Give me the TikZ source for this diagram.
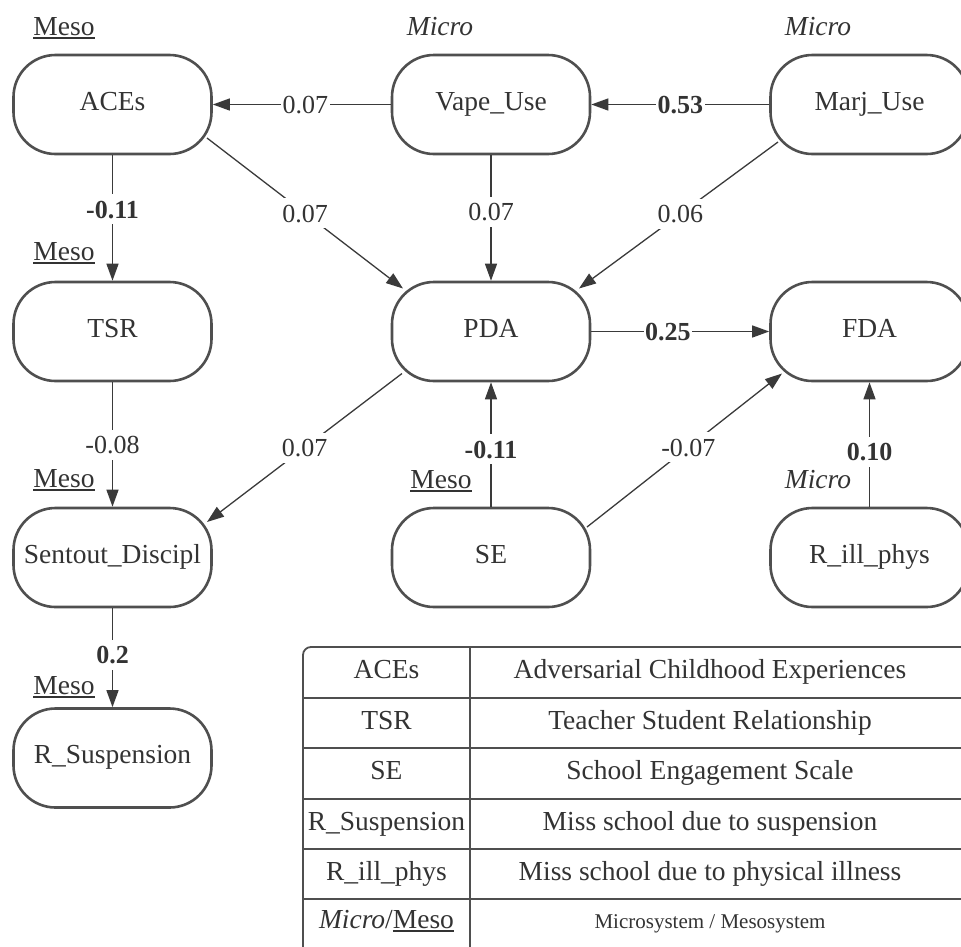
\documentclass[tikz,border=0pt]{standalone}
\usepackage{fontspec}
\setmainfont{Liberation Serif}
\usetikzlibrary{arrows.meta,calc}
\definecolor{ink}{HTML}{333333}
\definecolor{edgecol}{HTML}{3a3a3a}
\definecolor{framecol}{HTML}{4f4f4f}
% underlined word with a rule of our own thickness
\newcommand{\undl}[1]{\setbox0=\hbox{#1}\rlap{\rule[-3.6pt]{\wd0}{1.3pt}}\box0}
\begin{document}
\begin{tikzpicture}[x=1pt,y=-1pt,
  var/.style={draw=framecol, line width=2.6pt, rounded corners=42pt,
    minimum width=198pt, minimum height=99pt, inner sep=0pt,
    text height=18pt, text depth=7pt,
    text=ink, font=\fontsize{27.5}{32}\selectfont},
  lvl/.style={text=ink, inner sep=0pt, font=\fontsize{27.5}{32}\selectfont},
  link/.style={draw=edgecol, line width=1.3pt,
    -{Triangle[length=17pt,width=12pt]}},
  elab/.style={fill=white, text=ink, inner xsep=1.5pt, inner ysep=6pt,
    text height=18pt, text depth=0pt,
    font=\fontsize{26}{30}\selectfont},
  elabb/.style={elab, font=\fontsize{26}{30}\selectfont\bfseries},
  tabline/.style={draw=framecol, line width=1.8pt},
  tabtxt/.style={text=ink, inner sep=0pt, text height=18pt, text depth=6pt,
    font=\fontsize{27.5}{32}\selectfont},
]
\useasboundingbox (0,0) rectangle (961,946);
\clip (0,0) rectangle (961,946);

% variables
\node[var] (ACEs) at (112.5,104.5) {ACEs};
\node[var] (Vape) at (491,104.5) {Vape\_Use};
\node[var] (Marj) at (869.5,104.5) {Marj\_Use};
\node[var] (TSR)  at (112.5,331.5) {TSR};
\node[var] (PDA)  at (491,331.5) {PDA};
\node[var] (FDA)  at (869.5,331.5) {FDA};
\node[var] (Sent) at (112.5,557.5) {Sentout\_Discipl};
\node[var] (SE)   at (491,557.5) {SE};
\node[var] (Rill) at (869.5,557.5) {R\_ill\_phys};
\node[var] (Rsus) at (112.5,758) {R\_Suspension};

% system level tags
\node[lvl,anchor=base] (lvA) at (64,35)  {\undl{Meso}};
\node[lvl,anchor=base] (lvV) at (440,35) {\textit{Micro}};
\node[lvl,anchor=base] (lvM) at (818,35) {\textit{Micro}};
\node[lvl,anchor=base] (lvT) at (64,260) {\undl{Meso}};
\node[lvl,anchor=base] (lvS) at (64,487) {\undl{Meso}};
\node[lvl,anchor=base] (lvE) at (441,488) {\undl{Meso}};
\node[lvl,anchor=base] (lvR) at (818,488) {\textit{Micro}};
\node[lvl,anchor=base] (lvU) at (64,694) {\undl{Meso}};

% paths
\draw[link] (Vape) -- node[elab,pos=0.48] {0.07} (ACEs);
\draw[link] (Marj) -- node[elabb,pos=0.5] {0.53} (Vape);
\draw[link] (ACEs) -- node[elabb,pos=0.43] {-0.11} (TSR);
\draw[link] ($(ACEs.center)+(94.5,33.5)$) -- node[elab,pos=0.5] {0.07} ($(PDA.center)+(-88,-43)$);
\draw[link] (Vape) -- node[elab,pos=0.45] {0.07} (PDA);
\draw[link] ($(Marj.center)+(-91.5,37.5)$) -- node[elab,pos=0.49] {0.06} ($(PDA.center)+(88,-43)$);
\draw[link] (PDA) -- node[elabb,pos=0.43] {0.25} (FDA);
\draw[link] (TSR) -- node[elab,pos=0.5] {-0.08} (Sent);
\draw[link] ($(PDA.center)+(-89,42)$) -- node[elab,pos=0.5] {0.07} ($(Sent.center)+(94.5,-35.5)$);
\draw[link] (SE) -- node[elabb,pos=0.46] {-0.11} (PDA);
\draw[link] ($(SE.center)+(96,-30.5)$) -- node[elab,pos=0.52] {-0.07} ($(FDA.center)+(-87.5,42)$);
\draw[link] (Rill) -- node[elabb,pos=0.44] {0.10} (FDA);
\draw[link] (Sent) -- node[elabb,pos=0.47] {0.2} (Rsus);

% legend table
\draw[tabline, rounded corners=8pt] (303,647) rectangle (985,958);
\foreach \yy in {698,748,799,849,899}
  \draw[tabline] (303,\yy) -- (985,\yy);
\draw[tabline] (470,647) -- (470,958);
\node[tabtxt] (k1) at (386.5,672.5) {ACEs};
\node[tabtxt] (d1) at (710,672.5) {Adversarial Childhood Experiences};
\node[tabtxt] (k2) at (386.5,723) {TSR};
\node[tabtxt] (d2) at (710,723) {Teacher Student Relationship};
\node[tabtxt] (k3) at (386.5,773.5) {SE};
\node[tabtxt] (d3) at (710,773.5) {School Engagement Scale};
\node[tabtxt] (k4) at (386.5,824) {R\_Suspension};
\node[tabtxt] (d4) at (710,824) {Miss school due to suspension};
\node[tabtxt] (k5) at (386.5,874) {R\_ill\_phys};
\node[tabtxt] (d5) at (710,874) {Miss school due to physical illness};
\node[tabtxt] (k6) at (386.5,922) {\textit{Micro}/\undl{Meso}};
\node[tabtxt, font=\fontsize{21}{25}\selectfont] (d6) at (710,922) {Microsystem / Mesosystem};
\end{tikzpicture}
\end{document}
